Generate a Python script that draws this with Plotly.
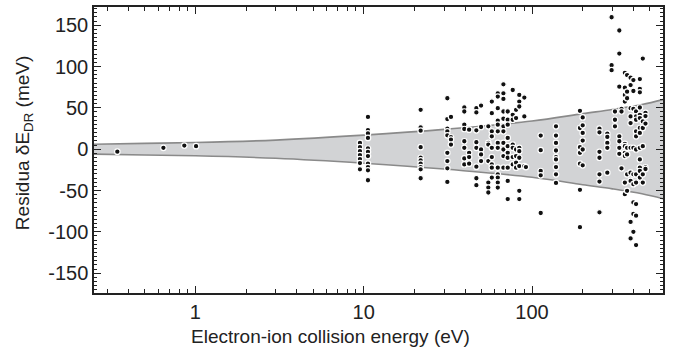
import plotly.graph_objects as go

# Uncertainty band (half-width in meV) read at selected energies (eV)
band_energy = [0.25, 0.5, 1, 3, 10, 30, 100, 200, 300, 450, 600]
band_half = [6, 7, 8, 11, 17, 24, 34, 43, 48, 54, 60]

# Residuals: energies (eV) and residual values (meV), grouped by column
clusters = [
    (0.344, [-3]), (0.646, [1.6]), (0.86, [4.4]), (1.01, [3.6]),
    (9.5, [7.6, 2.4, -2.4, -7.2, -12, -16.8, -24.4]),
    (10.6, [39, 23, 19, 13.6, 0.8, -3.2, -8.4, -17.6, -21.6, -25.6, -37.6]),
    (21.8, [47.6, 26.4, 22.4, 2.4, -10.4, -13.6, -17.6, -21.6, -24.4, -35.2]),
    (31.4, [61.6, 36.4, 24.8, 21.6, 16.8, -4.4, -14.4, -23.2, -39.6]),
    (33.0, [39, 14.4, 11.6, 5.6]),
    (39.6, [50.4, 45.6, 29.6, 24.4, 9.6, 1.6, -11.2, -18.4]),
    (42.3, [23.6, -4.4, -9.6, -17.6]),
    (46.7, [49.6, 44.4, 22.8, 8.4, 1.6, -21.2, -35.2, -43.6]),
    (49.8, [52.8, 26.8, -0.4, -6.4, -14.4]),
    (55.0, [27.6, 7.6, 5.6, -14.4, -40.4, -46.4, -52.4]),
    (57.7, [57.6, 43.6, 21.6, 15.6, 1.6, -9.6, -18.4, -22.4, -34.4]),
    (62.6, [67.6, 63.6, 49.6, 34.4, 29.6, 21.6, 7.6, 1.6, -22.4, -30.4, -34.4, -40.4, -46.4]),
    (67.6, [78.4, 67.6, 60.8, 45.6, 36.8, 27.6, 21.6, 7.6, -0.4, -8.4, -22.4]),
    (71.7, [45.6, 35.6, 29.6, 13.6, 3.6, -4.4, -10.4, -22.4, -38.4, -60.4]),
    (76.8, [71.6, 41.6, 35.6, 5.6, 1.6, -9.6, -18.4]),
    (80.4, [47.6, 37.6, -0.4, -8.4, -16.4, -22.4]),
    (84.0, [65.6, 57.6, 51.6, 1.6, -2.4, -10.4, -20.4, -50.4, -60.4]),
    (90.0, [62.4, 39.6, -20.4]),
    (92.0, [-21.6]),
    (112.6, [16.4, -1.2, -26.4, -31.6, -77.2]),
    (138.8, [27.6, 16.4, 7.6, -1.6, -9.6, -12.4, -21.6, -30.4, -40.8]),
    (192.6, [46.4, 25.6, 2.4, -4.4, -17.6, -49.2, -94.4]),
    (200.0, [38.4, 28.8, 19.6, 10.4, -0.4, -19.6]),
    (251.5, [24.8, 20.4, -3.2, -10.4, -30.4, -39.2, -76.4]),
    (280.0, [18.8, 14.8, 7.6, 1.6, -28.4]),
    (297.0, [159.6, 101.6, 95.6]),
    (311.0, [45.6, 35.6, 27.6]),
    (330.0, [143.6, 115.6, 75.6, 15.6, 9.6, 1.6, -5.6]),
    (340.0, [48.8, 45.6, -23.2]),
    (356.0, [92.4, 74.4, 65.6, 57.6, 6.4, 3.6, -4.4, -8.4, -40.4, -54.4]),
    (367.0, [89.6, 69.6, 61.6, 1.6, -6.4, -30.4, -50.4]),
    (385.0, [86.4, 77.6, 49.6, 39.6, 31.6, 1.6, -28.4, -38.4, -88, -108]),
    (400.0, [83.6, 70.4, 48.8, 1.6, -30.4, -42.4, -64.4, -78.4, -100]),
    (415.0, [45.6, 39.6, 35.6, 21.6, 15.6, -0.4, -30.4, -40.4, -66.4, -80.4, -116]),
    (437.0, [84.8, 72.8, 68.8, 50.4, 41.6, 37.6, 25.6, 19.6, 1.6, -12.4, -22.4, -26.4, -34.4]),
    (455.0, [109.6, 33.6, 25.6, 3.6, -30.4, -40.4]),
    (472.0, [44, 40, 31, -22, -24]),
]

energies = [e for e, vals in clusters for _ in vals]
residuals = [v for _, vals in clusters for v in vals]

x_ticks = [1, 10, 100]
y_ticks = [-150, -100, -50, 0, 50, 100, 150]
x_title = "Electron-ion collision energy (eV)"
y_title = "Residua δE<sub>DR</sub> (meV)"

fig = go.Figure()
fig.add_trace(go.Scatter(
    x=band_energy, y=band_half, mode="lines",
    line=dict(color="#8a8a8a", width=1.6, shape="spline"),
    hoverinfo="skip", showlegend=False))
fig.add_trace(go.Scatter(
    x=band_energy, y=[-h for h in band_half], mode="lines",
    line=dict(color="#8a8a8a", width=1.6, shape="spline"),
    fill="tonexty", fillcolor="#d2d3d5",
    hoverinfo="skip", showlegend=False))
fig.add_trace(go.Scatter(
    x=energies, y=residuals, mode="markers",
    marker=dict(color="#111111", size=5.5, line=dict(color="white", width=1.2)),
    showlegend=False))

tick_font = dict(family="Liberation Sans, Arial, sans-serif", size=20, color="#222222")
title_font = dict(family="Liberation Sans, Arial, sans-serif", size=19, color="#222222")

fig.update_layout(
    width=674, height=348,
    margin=dict(l=94, r=11, t=5, b=55),
    paper_bgcolor="white", plot_bgcolor="white",
    font=tick_font,
)
fig.update_xaxes(
    type="log", range=[-0.602, 2.778],
    tickvals=x_ticks, ticktext=[str(v) for v in x_ticks],
    ticks="inside", ticklen=7, tickwidth=1.2, tickcolor="#222222",
    minor=dict(ticks="inside", ticklen=4, tickwidth=1, tickcolor="#222222",
               tickvals=[0.3, 0.4, 0.5, 0.6, 0.7, 0.8, 0.9, 2, 3, 4, 5, 6, 7, 8, 9,
                         20, 30, 40, 50, 60, 70, 80, 90, 200, 300, 400, 500]),
    showline=True, linecolor="#222222", linewidth=1.5, mirror="ticks",
    showgrid=False, zeroline=False,
    tickfont=tick_font,
)
fig.update_yaxes(
    range=[-174, 172],
    tickvals=y_ticks, ticktext=[str(v) for v in y_ticks],
    ticks="inside", ticklen=7, tickwidth=1.2, tickcolor="#222222",
    minor=dict(ticks="inside", ticklen=3.5, tickwidth=1, tickcolor="#222222", dtick=5),
    showline=True, linecolor="#222222", linewidth=1.5, mirror="ticks",
    showgrid=False, zeroline=False,
    tickfont=tick_font,
)

fig.add_annotation(text=x_title, xref="paper", yref="paper",
                   x=0.4165, y=-0.108, xanchor="center", yanchor="top",
                   showarrow=False, font=title_font)
fig.add_annotation(text=y_title, xref="paper", yref="paper",
                   x=-0.123, y=0.524, xanchor="center", yanchor="middle",
                   textangle=-90, showarrow=False, font=title_font)

fig.write_html("out.html")
